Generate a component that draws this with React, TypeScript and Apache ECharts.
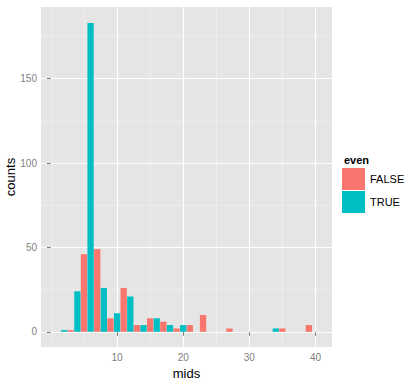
import React, { useEffect, useRef } from "react";
import * as echarts from "echarts";

const falseMids = [3, 5, 7, 9, 11, 13, 15, 17, 19, 21, 23, 27, 35, 39];
const falseCounts = [1, 46, 49, 8, 26, 4, 8, 6, 2, 4, 10, 2, 2, 4];
const trueMids = [2, 4, 6, 8, 10, 12, 14, 16, 18, 20, 34];
const trueCounts = [1, 24, 183, 26, 11, 21, 4, 8, 4, 4, 2];

const xMajor = [10, 20, 30, 40];
const xMinor = [0, 5, 15, 25, 35];
const yMajor = [0, 50, 100, 150];
const yMinor = [25, 75, 125, 175];

const FONT = "Liberation Sans, Arial, sans-serif";

export default function App() {
  const ref = useRef<HTMLDivElement>(null);
  useEffect(() => {
    if (!ref.current) return;
    const chart = echarts.init(ref.current, undefined, { renderer: "svg" });
    const xMin = -1.5, xMax = 42.5, yMin = -9, yMax = 192.5;
    const hidden = { show: false };
    chart.setOption({
      animation: false,
      textStyle: { fontFamily: FONT },
      grid: {
        left: 41, top: 7, width: 291, height: 340,
        outerBoundsMode: "none", containLabel: false,
        show: true, backgroundColor: "#E5E5E5", borderWidth: 0,
      },
      xAxis: [
        {
          type: "value", min: xMin, max: xMax, z: 1,
          axisLine: hidden,
          axisTick: { show: true, length: 4, customValues: xMajor, lineStyle: { color: "#7F7F7F" } },
          axisLabel: { customValues: xMajor, color: "#7F7F7F", fontSize: 10, margin: 5 },
          splitLine: { show: true, lineStyle: { color: "#FFFFFF", width: 1.2 } },
          name: "mids", nameLocation: "middle", nameGap: 20,
          nameTextStyle: { color: "#000", fontSize: 13 },
        },
        {
          type: "value", min: xMin, max: xMax, z: 0,
          axisLine: hidden, axisLabel: { show: false, customValues: xMinor },
          axisTick: { show: false, customValues: xMinor },
          splitLine: { show: true, lineStyle: { color: "#F2F2F2", width: 0.6 } },
        },
      ],
      yAxis: [
        {
          type: "value", min: yMin, max: yMax, z: 1,
          axisLine: hidden,
          axisTick: { show: true, length: 4, customValues: yMajor, lineStyle: { color: "#7F7F7F" } },
          axisLabel: { customValues: yMajor, color: "#7F7F7F", fontSize: 10, margin: 4 },
          splitLine: { show: true, lineStyle: { color: "#FFFFFF", width: 1.2 } },
        },
        {
          type: "value", min: yMin, max: yMax, z: 0,
          axisLine: hidden, axisLabel: { show: false, customValues: yMinor },
          axisTick: { show: false, customValues: yMinor },
          splitLine: { show: true, lineStyle: { color: "#F2F2F2", width: 0.6 } },
        },
      ],
      legend: {
        orient: "vertical", left: 342, top: 168, padding: 0,
        itemWidth: 23, itemHeight: 22, itemGap: 1, icon: "rect",
        textStyle: { fontSize: 11, color: "#000", fontFamily: FONT },
        data: ["FALSE", "TRUE"],
      },
      graphic: [
        {
          type: "text", left: 344, top: 154,
          style: { text: "even", font: `bold 11px ${FONT}`, fill: "#000" },
        },
        {
          type: "text", x: 10, y: 177, rotation: Math.PI / 2,
          style: {
            text: "counts", font: `13px ${FONT}`, fill: "#000",
            align: "center", verticalAlign: "middle",
          },
        },
      ],
      series: [
        {
          name: "FALSE", type: "bar", barWidth: 6.3, barGap: "-100%", z: 3,
          itemStyle: { color: "#F8766D" },
          data: falseMids.map((m, i) => [m, falseCounts[i]]),
        },
        {
          name: "TRUE", type: "bar", barWidth: 6.3, barGap: "-100%", z: 3,
          itemStyle: { color: "#00BFC4" },
          data: trueMids.map((m, i) => [m, trueCounts[i]]),
        },
      ],
    });
    return () => chart.dispose();
  }, []);
  return <div ref={ref} style={{ width: 407, height: 381, position: "absolute", left: 0, top: 0 }} />;
}
